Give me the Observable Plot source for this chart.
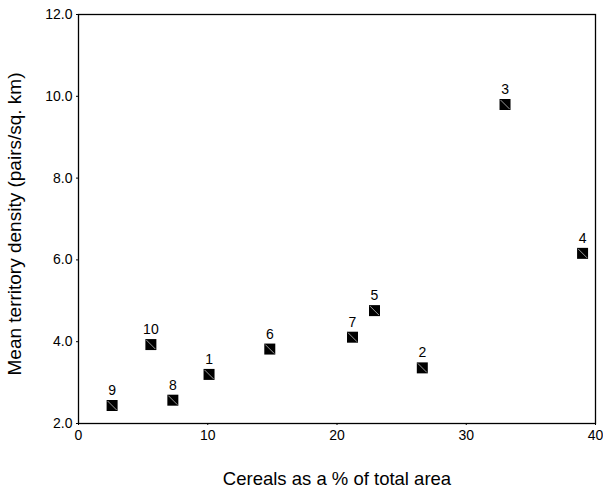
<!DOCTYPE html>
<html>
<head>
<meta charset="utf-8">
<script src="https://cdn.jsdelivr.net/npm/d3@7"></script>
<script src="https://cdn.jsdelivr.net/npm/@observablehq/plot@0.6"></script>
<style>
  html, body { margin: 0; padding: 0; background: #fff; }
  svg { font-family: "Liberation Sans", Arial, sans-serif; }
</style>
</head>
<body>
<div id="chart"></div>
<script>
const ids = ["1", "2", "3", "4", "5", "6", "7", "8", "9", "10"];
const cereals = [10.1, 26.6, 33.0, 39.0, 22.9, 14.8, 21.2, 7.3, 2.6, 5.6];
const density = [3.2, 3.36, 9.8, 6.16, 4.76, 3.82, 4.11, 2.57, 2.44, 3.93];
const xTicks = [0, 10, 20, 30, 40];
const yTicks = [2, 4, 6, 8, 10, 12];

const data = ids.map((id, i) => ({id, x: cereals[i], y: density[i]}));

const H = 5.5;
const squareSym = {draw(ctx) { ctx.rect(-H, -H, 2 * H, 2 * H); }};
const diagSym = {draw(ctx) { ctx.moveTo(-H + 1, -H + 1); ctx.lineTo(H - 1, H - 1); }};

const chart = Plot.plot({
  width: 603,
  height: 495,
  marginLeft: 78,
  marginRight: 8,
  marginTop: 14,
  marginBottom: 72,
  style: {fontFamily: "'Liberation Sans', Arial, sans-serif", background: "#fff", color: "#000"},
  x: {domain: [0, 40]},
  y: {domain: [2, 12]},
  marks: [
    Plot.frame({stroke: "#000", strokeWidth: 1.3}),
    Plot.axisX({ticks: xTicks, tickSize: 2, tickPadding: 5, fontSize: 14, tickFormat: d => String(d),
      label: "Cereals as a % of total area", labelAnchor: "center", labelArrow: "none", labelOffset: 61, color: "#000"}),
    Plot.axisY({ticks: yTicks, tickSize: 2, tickPadding: 4, fontSize: 14, tickFormat: d => d.toFixed(1),
      label: "Mean territory density (pairs/sq. km)", labelAnchor: "center", labelArrow: "none", labelOffset: 71, color: "#000"}),
    Plot.dot(data, {x: "x", y: "y", symbol: squareSym, fill: "#000", stroke: "none"}),
    Plot.dot(data, {x: "x", y: "y", symbol: diagSym, fill: "none", stroke: "#999", strokeWidth: 1}),
    Plot.text(data, {x: "x", y: "y", text: "id", dy: -15, fontSize: 14, fill: "#000"})
  ]
});
chart.querySelectorAll('[aria-label="x-axis label"] text').forEach(t => t.setAttribute("font-size", 18.5));
chart.querySelectorAll('[aria-label="y-axis label"] text').forEach(t => t.setAttribute("font-size", 19));
const yl = chart.querySelector('[aria-label="y-axis label"]');
if (yl) {
  const g = document.createElementNS("http://www.w3.org/2000/svg", "g");
  g.setAttribute("transform", "translate(0,5)");
  yl.parentNode.insertBefore(g, yl);
  g.appendChild(yl);
}
document.getElementById("chart").appendChild(chart);
</script>
</body>
</html>
